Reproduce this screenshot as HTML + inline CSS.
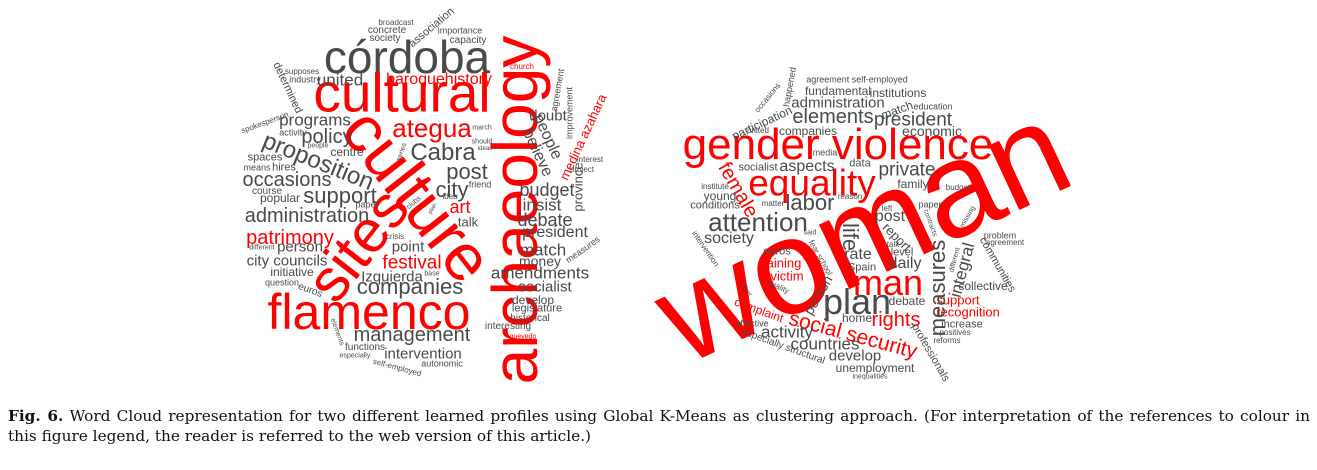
<!DOCTYPE html>
<html><head><meta charset="utf-8">
<style>
html,body{margin:0;padding:0;background:#fff;}
#root{position:relative;width:1317px;height:470px;overflow:hidden;font-family:"Liberation Sans",Arial,sans-serif;}
.w{position:absolute;white-space:nowrap;line-height:1;transform-origin:center center;}
#caption{position:absolute;left:8px;top:406px;width:1302px;font-family:"DejaVu Serif","Liberation Serif",serif;font-size:15.3px;line-height:20px;color:#111;text-align:justify;}
</style></head>
<body>
<div id="root">
<div id="cloud-left"></div>
<div id="cloud-right"></div>
<div id="caption"><b>Fig. 6.</b> Word Cloud representation for two different learned profiles using Global K-Means as clustering approach. (For interpretation of the references to colour in this figure legend, the reader is referred to the web version of this article.)</div>
</div>
<script>
// [text, centerX, centerY, fontSize, rotation, red?]
const leftWords = [
["córdoba",407,57,46,0,0],["cultural",402,93,55,0,1],["archaeology",515,210,64,-90,1],
["culture",418,195,66,52,1],["sites",358,245,60,-52,1],["flamenco",369,312,50,0,1],
["ategua",432,128,26,0,1],["baroquehistory",439,80,16,0,1],["church",522,67,8,0,1],
["medina azahara",583,137,13,-65,1],["art",460,207,18,0,1],["patrimony",290,238,20,0,1],
["festival",412,263,19,0,1],["quevedo",523,337,7,0,1],
["united",340,80,17,0,0],["programs",315,120,17,0,0],["policy",327,137,20,0,0],
["proposition",318,162,24,22,0],["Cabra",443,153,24,0,0],["post",467,172,22,0,0],
["occasions",287,180,20,0,0],["support",340,196,22,0,0],["administration",307,216,20,0,0],
["city",452,190,22,0,0],["budget",547,190,18,0,0],["insist",542,205,17,0,0],
["debate",545,220,18,0,0],["president",555,233,16,0,0],["match",543,250,17,0,0],
["money",540,261,14,0,0],["amendments",540,273,17,0,0],["socialist",545,287,15,0,0],
["develop",533,300,12,0,0],["legislature",537,309,11,0,0],["historical",530,319,10,0,0],
["interesting",508,327,10,0,0],["management",412,335,20,0,0],["intervention",423,354,15,0,0],
["autonomic",442,364,9,0,0],["self-employed",397,368,8,15,0],["functions",365,348,10,0,0],
["especially",355,356,7,0,0],["elements",337,332,7,70,0],["companies",410,287,22,0,0],
["Izquierda",392,277,15,0,0],["point",408,247,15,0,0],["talk",468,222,13,0,0],
["person",300,247,15,0,0],["city councils",287,261,15,0,0],["initiative",292,272,12,0,0],
["question",282,283,9,0,0],["euros",310,291,10,20,0],["different",262,248,7,0,0],
["crisis",395,237,8,0,0],["base",432,274,7,0,0],["paper",367,205,9,0,0],
["popular",280,198,12,0,0],["course",267,192,10,0,0],["spaces",265,158,11,0,0],
["means",257,168,9,0,0],["hires",284,168,11,0,0],["activity",293,133,9,0,0],
["people",318,146,7,0,0],["centre",347,152,12,0,0],["spokesperson",265,123,8,-20,0],
["determined",287,88,11,65,0],["supposes",302,72,8,0,0],["industry",305,80,9,0,0],
["society",385,39,10,0,0],["concrete",387,31,10,0,0],["broadcast",396,23,8,0,0],
["association",432,28,11,-40,0],["importance",460,31,9,0,0],["capacity",468,41,10,0,0],
["doubt",548,116,15,0,0],["people",547,137,16,65,0],["believe",537,153,16,65,0],
["agreement",558,90,9,-80,0],["improvement",570,113,9,-90,0],["interest",590,160,8,0,0],
["project",582,170,8,0,0],["province",578,187,13,-90,0],["measures",583,250,9,-35,0],
["march",482,128,7,0,0],["should",482,142,7,0,0],["ideas",485,149,6,0,0],
["series",402,152,7,-70,0],["friend",480,185,9,0,0],["idea",450,197,8,0,0],
["clubs",414,203,7,-40,0],["plan",433,209,6,-60,0]
];
const rightWords = [
["woman",862,232,135,-25,1],["gender violence",838,145,44,0,1],["equality",812,183,37,0,1],
["female",738,190,20,60,1],["man",888,283,36,0,1],["rights",896,320,20,0,1],
["social security",853,335,21,15,1],["complaint",759,310,12,20,1],["training",780,263,13,0,1],
["victim",787,276,13,0,1],["support",958,300,13,0,1],["recognition",968,312,13,0,1],
["agreement self-employed",857,80,9,0,0],["fundamental",838,91,12,0,0],["institutions",898,93,12,0,0],
["administration",838,103,15,0,0],["match",897,110,12,-20,0],["education",933,107,9,0,0],
["elements",833,117,20,0,0],["president",913,120,19,0,0],["participation",762,123,12,-25,0],
["occasions",768,98,8,-50,0],["happened",790,87,9,-80,0],["united",758,131,8,0,0],
["companies",808,131,12,0,0],["economic",932,131,14,0,0],["media",825,153,9,0,0],
["socialist",758,168,11,0,0],["aspects",807,167,16,0,0],["data",860,164,11,0,0],
["private",907,170,19,0,0],["family",913,184,12,0,0],["institute",715,187,8,0,0],
["young",720,196,12,0,0],["conditions",715,206,11,0,0],["matter",773,204,8,0,0],
["labor",810,203,22,0,0],["reason",850,197,8,0,0],["budget",958,188,8,0,0],
["paper",930,205,9,0,0],["left",887,209,8,0,0],["post",890,217,16,0,0],
["attention",758,222,26,0,0],["society",729,239,16,0,0],["intervention",705,249,8,55,0],
["said",810,233,7,0,0],["fear school",820,258,8,60,0],["euros",777,252,11,0,0],
["quality",778,287,8,25,0],["budget",745,288,6,60,0],["life",850,237,22,90,0],
["rate",858,255,16,0,0],["report",897,237,13,45,0],["talk",893,245,8,0,0],
["level",902,253,11,0,0],["daily",905,264,16,0,0],["Spain",862,268,11,0,0],
["measures",938,288,22,-90,0],["integral",962,270,17,-75,0],["different",955,260,7,-75,0],
["contracts",930,223,7,70,0],["missing",968,217,7,-60,0],["problem",1000,236,9,0,0],
["agreement",1005,243,8,0,0],["communities",997,265,11,60,0],["collective",983,286,12,0,0],
["person",818,295,14,-60,0],["plan",857,302,36,0,0],["debate",907,301,12,0,0],
["home",857,318,12,0,0],["increase",962,325,11,0,0],["positives",955,333,8,0,0],
["reforms",947,341,8,0,0],["professionals",930,353,11,60,0],["effective",752,324,9,0,0],
["especially structural",783,347,10,20,0],["activity",787,332,17,0,0],["countries",825,344,17,0,0],
["develop",855,356,15,0,0],["unemployment",875,368,12,0,0],["inequalities",870,377,7,0,0]
];
function draw(list, parentId){
  const p = document.getElementById(parentId);
  list.forEach(w=>{
    const el = document.createElement('span');
    el.className='w';
    
    
    el.textContent = w[0];
    el.style.fontSize = w[3]+'px';
    el.style.color = w[5] ? '#ff0000' : '#4a4a4a';
    el.style.left = w[1]+'px';
    el.style.top = w[2]+'px';
    el.style.transform = 'translate(-50%,-50%) rotate('+w[4]+'deg)';
    p.appendChild(el);
  });
}
draw(leftWords,'cloud-left');
draw(rightWords,'cloud-right');
</script>
</body></html>
